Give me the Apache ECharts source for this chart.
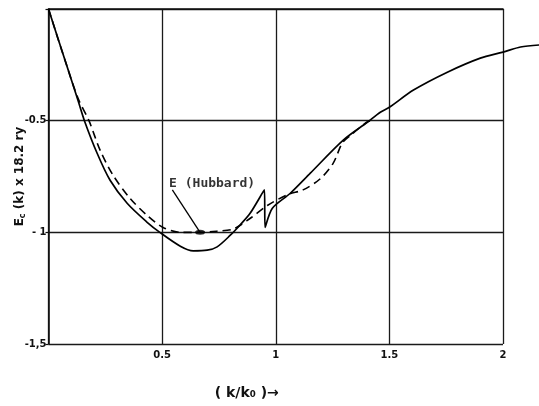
<!DOCTYPE html>
<html>
<head>
<meta charset="utf-8">
<script src="https://cdn.jsdelivr.net/npm/echarts@6/dist/echarts.min.js"></script>
<style>
  html, body { margin: 0; padding: 0; background: #fff; }
  #chart { width: 539px; height: 406px; }
</style>
</head>
<body>
<div id="chart"></div>
<script>
  // solid curve E_c(k) (runs past k/k0 = 2)
  var solidX = [0, 0.076, 0.13, 0.158, 0.214, 0.271, 0.346, 0.434, 0.49, 0.58, 0.637, 0.698, 0.742, 0.8, 0.844,
    0.887, 0.95, 0.953, 0.985, 1.064, 1.152, 1.297, 1.403, 1.46, 1.5, 1.606, 1.755, 1.9, 2.0, 2.077, 2.16];
  var solidY = [0, -0.24, -0.41, -0.5, -0.646, -0.767, -0.87, -0.955, -1.0, -1.062, -1.083, -1.08, -1.065, -1.013, -0.966,
    -0.915, -0.81, -0.978, -0.892, -0.825, -0.735, -0.587, -0.507, -0.462, -0.44, -0.363, -0.283, -0.22, -0.193, -0.17, -0.161];

  // dashed curve
  var dashX = [0, 0.076, 0.13, 0.178, 0.227, 0.284, 0.359, 0.434, 0.504, 0.58, 0.667, 0.74, 0.813, 0.888, 0.963,
    1.055, 1.12, 1.196, 1.253, 1.293, 1.33, 1.40, 1.42];
  var dashY = [0, -0.24, -0.4, -0.5, -0.632, -0.744, -0.848, -0.924, -0.978, -1.0, -1.0, -0.995, -0.985, -0.937, -0.88,
    -0.83, -0.81, -0.76, -0.69, -0.60, -0.565, -0.507, -0.5];

  // Hubbard point and its label
  var hubbardPoint = [0.667, -1.0];
  var hubbardArrowFrom = [0.545, -0.81];
  var hubbardLabelPos = [0.72, -0.78];
  var hubbardText = 'E (Hubbard)';

  var xTickLabels = { '0.5': '0.5', '1': '1', '1.5': '1.5', '2': '2' };
  var yTickLabels = { '-0.5': '-0.5', '-1': '- 1', '-1.5': '-1,5' };

  function zip(xs, ys) {
    var out = [];
    for (var i = 0; i < xs.length; i++) out.push([xs[i], ys[i]]);
    return out;
  }

  var chart = echarts.init(document.getElementById('chart'));

  var tickFont = {
    fontFamily: 'DejaVu Sans',
    fontWeight: 'bold',
    fontSize: 10,
    color: '#111'
  };

  var option = {
    backgroundColor: '#fff',
    animation: false,
    grid: [
      { left: 48.5, top: 9, right: 36, bottom: 62, outerBoundsMode: 'none', containLabel: false },
      // same scale, wider box so the solid curve can run past the frame
      { left: 48.5, top: 9, right: -0.4, bottom: 62, outerBoundsMode: 'none', containLabel: false }
    ],
    xAxis: [
      {
        type: 'value',
        gridIndex: 0,
        min: 0,
        max: 2,
        interval: 0.5,
        name: '( k/k\u2080 )\u2192',
        nameLocation: 'middle',
        nameGap: 42,
        nameMoveOverlap: false,
        nameTextStyle: {
          fontFamily: 'DejaVu Sans',
          fontWeight: 'bold',
          fontSize: 14,
          color: '#111',
          padding: [0, 58, 0, 0]
        },
        axisLine: { lineStyle: { color: '#111', width: 1.6 } },
        axisTick: { show: false },
        splitLine: { lineStyle: { color: '#1a1a1a', width: 1.3 } },
        axisLabel: Object.assign({
          margin: 6,
          formatter: function (v) { return xTickLabels[String(v)] || ''; }
        }, tickFont)
      },
      {
        type: 'value',
        gridIndex: 1,
        min: 0,
        max: 2.16,
        show: false
      }
    ],
    yAxis: [
      {
        type: 'value',
        gridIndex: 0,
        min: -1.5,
        max: 0,
        interval: 0.5,
        name: '{a|E}{s|c}{a| (k) x 18.2 ry}',
        nameLocation: 'middle',
        nameRotate: 90,
        nameGap: 22,
        nameMoveOverlap: false,
        nameTextStyle: {
          rich: {
            a: { fontFamily: 'DejaVu Sans', fontWeight: 'bold', fontSize: 12, color: '#111' },
            s: { fontFamily: 'DejaVu Sans', fontWeight: 'bold', fontSize: 8, color: '#111', padding: [6, 0, 0, 0] }
          }
        },
        axisLine: { show: true, lineStyle: { color: '#111', width: 1.6 } },
        axisTick: { show: true, length: 3, lineStyle: { color: '#111', width: 1.2 } },
        splitLine: { lineStyle: { color: '#1a1a1a', width: 1.3 } },
        axisLabel: Object.assign({
          margin: 2,
          formatter: function (v) { return yTickLabels[String(v)] || ''; }
        }, tickFont)
      },
      {
        type: 'value',
        gridIndex: 1,
        min: -1.5,
        max: 0,
        show: false
      }
    ],
    series: [
      {
        name: 'solid',
        type: 'line',
        xAxisIndex: 1,
        yAxisIndex: 1,
        data: zip(solidX, solidY),
        showSymbol: false,
        smooth: 0.3,
        clip: false,
        lineStyle: { color: '#000', width: 1.7 }
      },
      {
        name: 'dashed',
        type: 'line',
        data: zip(dashX, dashY),
        showSymbol: false,
        smooth: 0.3,
        lineStyle: { color: '#000', width: 1.6, type: [8, 5] }
      },
      {
        name: 'hubbard',
        type: 'scatter',
        data: [hubbardPoint],
        symbolSize: [10, 5],
        itemStyle: { color: '#000' },
        markLine: {
          silent: true,
          symbol: ['none', 'none'],
          label: { show: false },
          lineStyle: { color: '#000', width: 1.3, type: 'solid' },
          data: [[{ coord: hubbardArrowFrom }, { coord: hubbardPoint }]]
        }
      },
      {
        name: 'label',
        type: 'scatter',
        data: [hubbardLabelPos],
        symbolSize: 0,
        label: {
          show: true,
          position: 'inside',
          formatter: hubbardText,
          fontFamily: 'DejaVu Sans Mono',
          fontWeight: 'bold',
          fontSize: 13,
          color: '#000',
          textBorderWidth: 0
        }
      }
    ]
  };

  chart.setOption(option);
  window.addEventListener('resize', function () {
    chart.resize();
  });
</script>
</body>
</html>
